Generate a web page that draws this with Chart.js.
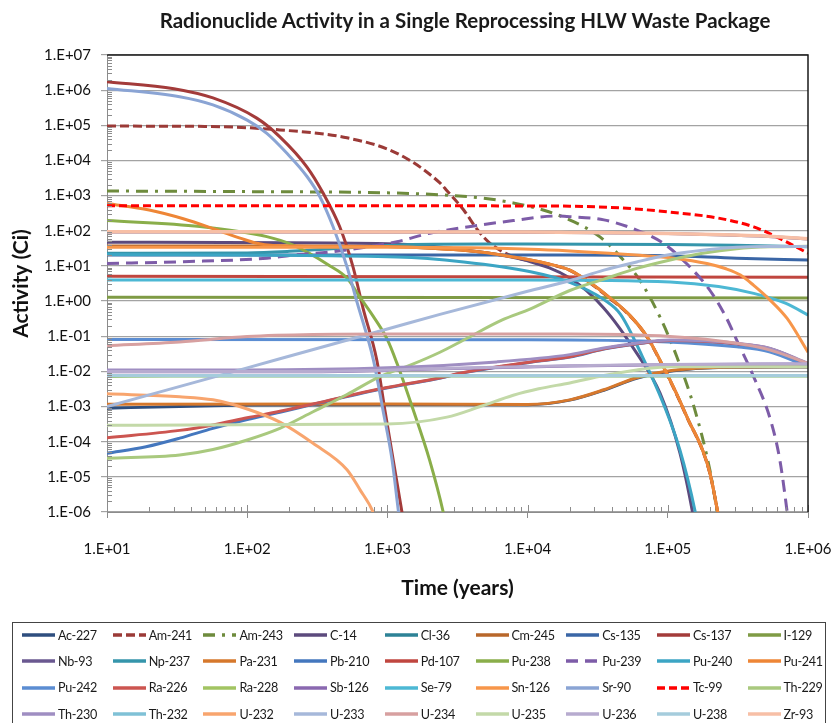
<!DOCTYPE html>
<html>
<head>
<meta charset="utf-8">
<script src="https://cdn.jsdelivr.net/npm/chart.js@4.4.1/dist/chart.umd.min.js"></script>
<style>
  body { margin: 0; background: #fff; font-family: Lato, 'Liberation Sans', sans-serif; }
  #wrap { position: relative; width: 838px; height: 723px; overflow: hidden; }
  #title { position: absolute; top: 7px; left: 465px; transform: translateX(-50%); white-space: nowrap;
    font-weight: bold; font-size: 20.5px; line-height: 26px; color: #1a1a1a; }
  #legend { position: absolute; left: 12px; top: 622px; width: 814px; height: 120px; border: 1px solid #444; box-sizing: border-box; }
  .item { position: absolute; display: flex; align-items: center; height: 20px; font-size: 12.6px; letter-spacing: -0.35px; color: #1a1a1a; white-space: nowrap; }
  .item svg { margin-right: 3px; }
</style>
</head>
<body>
<div id="wrap">
  <canvas id="chart" width="838" height="723"></canvas>
  <div id="title">Radionuclide Activity in a Single Reprocessing HLW Waste Package</div>
  <div id="legend"></div>
</div>
<script>
'use strict';

const timeTicks = [1e1, 1e2, 1e3, 1e4, 1e5, 1e6];
const activityTicks = [1e-6, 1e-5, 1e-4, 1e-3, 1e-2, 1e-1, 1e0, 1e1, 1e2, 1e3, 1e4, 1e5, 1e6, 1e7];

const nuclides = [
  'Ac-227', 'Am-241', 'Am-243', 'C-14', 'Cl-36', 'Cm-245', 'Cs-135', 'Cs-137', 'I-129',
  'Nb-93', 'Np-237', 'Pa-231', 'Pb-210', 'Pd-107', 'Pu-238', 'Pu-239', 'Pu-240', 'Pu-241',
  'Pu-242', 'Ra-226', 'Ra-228', 'Sb-126', 'Se-79', 'Sn-126', 'Sr-90', 'Tc-99', 'Th-229',
  'Th-230', 'Th-232', 'U-232', 'U-233', 'U-234', 'U-235', 'U-236', 'U-238', 'Zr-93',
];

const lineColors = [
  '#2E4E7E', '#9B3A37', '#6E8B3D', '#5C4A7D', '#2D8296', '#B8672A', '#3A66A6', '#A33B3A', '#7F9B45',
  '#6A5890', '#3595AB', '#D6782C', '#4477BE', '#C0463F', '#8AAE4A', '#7D5CA8', '#3CA5C4', '#EE8636',
  '#5B8DD2', '#CC5550', '#A2C462', '#8A68B0', '#4DB8D4', '#F7964A', '#8AA4D4', '#FF0000', '#A9C97E',
  '#9F8EC2', '#7FC1D6', '#F8A56E', '#A6B8DA', '#D7A0A0', '#C3D9A8', '#B7ABCF', '#A5CCDC', '#F7BFA6',
];

const dashPatterns = { 'Am-241': [9, 4], 'Am-243': [12, 7, 3, 7], 'Pu-239': [12, 7], 'Tc-99': [8, 4] };

// [years, Ci]
const ac227 = [[10, 9.0e-4], [33, 1.0e-3], [100, 1.1e-3], [1000, 1.15e-3], [1e4, 1.13e-3], [2e4, 1.52e-3], [3.5e4, 2.9e-3], [6e4, 6.4e-3], [1.1e5, 0.0105], [2.3e5, 0.013], [1e6, 0.0133]];
const am241 = [[10, 9.5e4], [50, 9.3e4], [171, 7.4e4], [515, 4.4e4], [1170, 1.6e4], [2370, 2.3e3], [2650, 1.4e3], [3500, 390], [4400, 105], [5400, 44], [7900, 18.5], [1.37e4, 11.5], [2e4, 7.5], [2.8e4, 3.2], [3.9e4, 1.15], [5.4e4, 0.37], [7.1e4, 0.095], [9.3e4, 0.013], [1.15e5, 2.3e-3], [1.4e5, 4.1e-4], [1.77e5, 5.6e-5], [2e5, 1.2e-5], [2.27e5, 9.8e-7], [2.5e5, 1e-7]];
const am243 = [[10, 1350], [100, 1300], [1000, 1200], [2400, 1050], [4800, 850], [7900, 620], [1.29e4, 390], [1.79e4, 245], [3.3e4, 66], [4.8e4, 15], [6.3e4, 4.0], [8.8e4, 0.35], [1.16e5, 0.026], [1.56e5, 8.0e-4], [2e5, 1.5e-5], [2.24e5, 1.1e-6], [2.5e5, 5e-8]];
const c14 = [[10, 47], [1000, 43], [4600, 25], [1e4, 14], [2e4, 4.5], [3.5e4, 0.63], [6e4, 0.033], [8.8e4, 2.4e-3], [1.22e5, 4.8e-5], [1.5e5, 1.0e-6], [1.7e5, 5e-8]];
const cl36 = [];
const cm245 = [[10, 37], [100, 37], [300, 36.5], [1000, 35.5], [2000, 32], [4600, 25], [7900, 18], [1.37e4, 11.7], [2e4, 7.6], [2.8e4, 3.3], [3.9e4, 1.2], [5.4e4, 0.38], [7.1e4, 0.098], [9.3e4, 0.0135], [1.15e5, 2.4e-3], [1.4e5, 4.2e-4], [1.77e5, 5.8e-5], [2e5, 1.26e-5], [2.27e5, 1e-6], [2.5e5, 1e-7]];
const cs135 = [[10, 20.4], [2e4, 20.4], [1e5, 19.5], [3.1e5, 16.6], [1e6, 14.8]];
const cs137 = [[10, 1.74e6], [30, 1.1e6], [57, 6.0e5], [117, 1.6e5], [171, 4.7e4], [267, 6.5e3], [347, 1.2e3], [457, 130], [569, 9.3], [670, 0.63], [840, 0.021], [960, 7.9e-4], [1100, 3.0e-5], [1270, 1.0e-6], [1400, 1e-7]];
const i129 = [[10, 1.28], [1e6, 1.23]];
const nb93 = [[10, 93], [1e4, 91], [2e4, 89], [1e5, 83], [3e5, 75], [6e5, 67], [1e6, 58]];
const np237 = [[10, 23], [100, 23.5], [200, 26], [400, 31], [1000, 38], [1500, 41], [5000, 42], [1e5, 41], [3e5, 39], [1e6, 35]];
const pa231 = [[10, 1.17e-3], [1000, 1.18e-3], [1e4, 1.15e-3], [2e4, 1.55e-3], [3.5e4, 3.0e-3], [6e4, 6.6e-3], [1.1e5, 0.0107], [2.3e5, 0.0132], [1e6, 0.0135]];
const pb210 = [[10, 4.7e-5], [19, 7.2e-5], [33, 1.26e-4], [57, 2.4e-4], [100, 4.3e-4], [171, 6.9e-4], [295, 1.15e-3], [885, 3.1e-3], [1200, 3.9e-3], [2400, 6.5e-3], [3500, 9.1e-3], [1.05e4, 0.0182], [2e4, 0.0255], [3.5e4, 0.043], [6e4, 0.06], [1.04e5, 0.075], [1.8e5, 0.071], [3.1e5, 0.06], [5.3e5, 0.044], [1e6, 0.0163]];
const pd107 = [[10, 5.1], [1e6, 4.8]];
const pu238 = [[10, 195], [46, 132], [138, 68], [213, 39], [390, 10], [515, 4.5], [640, 1.25], [795, 0.36], [1000, 0.08], [1170, 0.017], [1500, 1.0e-3], [2000, 3e-5], [2500, 1e-6], [2800, 1e-7]];
const pu239 = [[10, 11.7], [35, 13.2], [138, 16.6], [213, 20.4], [390, 25], [1170, 49], [2000, 85], [4600, 145], [7900, 195], [1.6e4, 262], [2e4, 252], [3.5e4, 204], [6e4, 105], [9.3e4, 44], [1.36e5, 11.7], [2e5, 2.0], [2.6e5, 0.35], [3.1e5, 0.078], [4.1e5, 7e-3], [5.4e5, 4.2e-4], [6.3e5, 3e-5], [7.1e5, 1e-6], [7.6e5, 1e-7]];
const pu240 = [[10, 21], [1170, 18], [3500, 13], [1.05e4, 6.8], [2e4, 3.4], [3.5e4, 1.1], [4.6e4, 0.42], [6.6e4, 0.026], [9.3e4, 1.2e-3], [1.22e5, 5.8e-5], [1.57e5, 1.0e-6], [1.8e5, 5e-8]];
const pu241 = [[10, 600], [20, 390], [35, 220], [61, 105], [89, 62], [117, 44], [153, 38], [300, 36.3], [1000, 35.5], [2000, 32], [4600, 25], [7900, 18], [1.37e4, 11.7], [2e4, 7.6], [2.8e4, 3.3], [3.9e4, 1.2], [5.4e4, 0.38], [7.1e4, 0.098], [9.3e4, 0.0135], [1.15e5, 2.4e-3], [1.4e5, 4.2e-4], [1.77e5, 5.8e-5], [2e5, 1.26e-5], [2.27e5, 1e-6], [2.5e5, 1e-7]];
const pu242 = [[10, 0.081], [1e4, 0.080], [1e5, 0.069], [3.1e5, 0.050], [5.3e5, 0.036], [1e6, 0.0135]];
const ra226 = [[10, 1.3e-4], [33, 2.1e-4], [57, 3.0e-4], [100, 4.8e-4], [171, 7.3e-4], [295, 1.18e-3], [885, 3.2e-3], [1200, 4.0e-3], [2400, 6.6e-3], [3500, 9.3e-3], [1.05e4, 0.0186], [2e4, 0.026], [3.5e4, 0.044], [6e4, 0.061], [1.04e5, 0.076], [1.8e5, 0.072], [3.1e5, 0.061], [5.3e5, 0.045], [1e6, 0.0165]];
const ra228 = [[10, 0.0072], [30, 0.0074], [1e6, 0.0074]];
const sb126 = [[10, 0.0098], [300, 0.0098], [2400, 0.0118], [2e4, 0.0142], [1e5, 0.0155], [1e6, 0.0163]];
const se79 = [[10, 4.0], [1e4, 4.0], [1.04e5, 3.5], [2.3e5, 2.6], [4.1e5, 1.66], [6.9e5, 0.87], [1e6, 0.4]];
const sn126 = [[10, 34], [1000, 34], [1.2e4, 29.5], [6.3e4, 20], [1.1e5, 16.6], [1.9e5, 11.7], [2.6e5, 8.3], [3.3e5, 5.5], [4.1e5, 2.8], [5.3e5, 1.12], [7.1e5, 0.32], [1e6, 0.035]];
const sr90 = [[10, 1.12e6], [33, 6.5e5], [57, 3.8e5], [100, 1.4e5], [138, 5.9e4], [192, 1.6e4], [267, 3.5e3], [330, 930], [410, 130], [515, 9.5], [610, 0.87], [795, 0.021], [930, 7.9e-4], [1080, 3.0e-5], [1200, 1e-6], [1350, 3e-8]];
const tc99 = [[10, 513], [1e4, 510], [2e4, 500], [4.6e4, 447], [1.04e5, 339], [2.3e5, 229], [4.1e5, 129], [6e5, 66], [1e6, 23]];
const th229 = [[10, 3.4e-5], [33, 4.2e-5], [57, 6e-5], [100, 1.12e-4], [171, 2.4e-4], [295, 7.1e-4], [515, 2.2e-3], [885, 7.1e-3], [1500, 0.0158], [2370, 0.035], [3500, 0.078], [6600, 0.29], [1.05e4, 0.6], [2e4, 2.0], [3.5e4, 4.2], [6e4, 8.5], [1.04e5, 14.8], [1.77e5, 23], [3.1e5, 31], [5.3e5, 35], [1e6, 36]];
const th230 = [[10, 0.011], [100, 0.011], [1000, 0.0126], [6000, 0.0186], [2e4, 0.030], [3.5e4, 0.046], [6e4, 0.063], [1.04e5, 0.078], [1.8e5, 0.074], [3.1e5, 0.063], [5.3e5, 0.046], [1e6, 0.017]];
const th232 = [[10, 0.0075], [1e6, 0.0075]];
const u232 = [[10, 2.3e-3], [33, 1.9e-3], [57, 1.55e-3], [100, 8.5e-4], [171, 3.6e-4], [295, 9e-5], [515, 1.6e-5], [640, 4.2e-6], [790, 1e-6], [900, 2e-7]];
const u233 = [[10, 1e-3], [100, 0.0126], [1000, 0.16], [2370, 0.42], [1e4, 1.9], [2e4, 3.8], [3.5e4, 7.6], [6e4, 13], [1.04e5, 21], [1.77e5, 28], [3.1e5, 34], [5.3e5, 35.5], [1e6, 35.5]];
const u234 = [[10, 0.054], [33, 0.069], [100, 0.098], [295, 0.112], [1000, 0.115], [2e4, 0.115], [1.04e5, 0.098], [3.1e5, 0.063], [5.3e5, 0.041], [1e6, 0.017]];
const u235 = [[10, 2.95e-4], [1000, 3.2e-4], [2660, 5e-4], [4600, 1e-3], [7900, 2.1e-3], [1.2e4, 3.2e-3], [2e4, 4.7e-3], [3.5e4, 7.6e-3], [6e4, 0.011], [1.04e5, 0.0135], [1e6, 0.0135]];
const u236 = [[10, 0.0100], [300, 0.0100], [2400, 0.0120], [2e4, 0.0145], [1e5, 0.0158], [1e6, 0.0166]];
const u238 = [[10, 0.0076], [1e6, 0.0076]];
const zr93 = [[10, 94], [1e4, 92], [2e4, 90], [1e5, 84], [3e5, 76], [6e5, 68], [1e6, 59]];

const series = [
  ac227, am241, am243, c14, cl36, cm245, cs135, cs137, i129,
  nb93, np237, pa231, pb210, pd107, pu238, pu239, pu240, pu241,
  pu242, ra226, ra228, sb126, se79, sn126, sr90, tc99, th229,
  th230, th232, u232, u233, u234, u235, u236, u238, zr93,
];

const FONT = 'Lato, "Liberation Sans", sans-serif';

function sciLabel(value) {
  const e = Math.round(Math.log10(value));
  return '1.E' + (e < 0 ? '-' : '+') + String(Math.abs(e)).padStart(2, '0');
}

// minor log ticks on the inside of the axes, and the dark frame on top/right
const axisFrame = {
  id: 'axisFrame',
  afterDraw(chart) {
    const { ctx, chartArea: a, scales: { x, y } } = chart;
    ctx.save();
    ctx.strokeStyle = '#8c8c8c';
    ctx.lineWidth = 1;
    ctx.beginPath();
    for (let e = -6; e < 7; e++) {
      for (let k = 2; k < 10; k++) {
        const py = Math.round(y.getPixelForValue(k * 10 ** e)) + 0.5;
        ctx.moveTo(a.left, py);
        ctx.lineTo(a.left + 5, py);
      }
    }
    for (let e = 1; e < 7; e++) {
      for (let k = 1; k < 10; k++) {
        if (e === 6 && k > 1) break;
        const px = Math.round(x.getPixelForValue(k * 10 ** e)) + 0.5;
        ctx.moveTo(px, a.bottom);
        ctx.lineTo(px, a.bottom - (k === 1 ? 7 : 5));
      }
    }
    ctx.stroke();
    ctx.strokeStyle = '#1a1a1a';
    ctx.lineWidth = 1.5;
    ctx.beginPath();
    ctx.moveTo(a.left, a.top);
    ctx.lineTo(a.right, a.top);
    ctx.lineTo(a.right, a.bottom);
    ctx.stroke();
    ctx.restore();
  },
};

new Chart(document.getElementById('chart'), {
  type: 'line',
  data: {
    datasets: nuclides.map((name, i) => ({
      label: name,
      data: series[i].map(([x, y]) => ({ x, y })),
      borderColor: lineColors[i],
      backgroundColor: lineColors[i],
      borderWidth: name === 'Zr-93' ? 3.5 : 3,
      borderDash: dashPatterns[name] || [],
      pointRadius: 0,
      cubicInterpolationMode: 'monotone',
      fill: false,
      order: -i,
    })),
  },
  options: {
    responsive: false,
    animation: false,
    layout: { padding: { top: 55, right: 30, left: 0, bottom: 0 } },
    plugins: { legend: { display: false }, tooltip: { enabled: false } },
    scales: {
      x: {
        type: 'logarithmic',
        min: 10,
        max: 1e6,
        afterBuildTicks: scale => { scale.ticks = timeTicks.map(value => ({ value })); },
        afterFit: scale => { scale.height = 211; scale.paddingLeft = 0; scale.paddingRight = 0; },
        grid: { drawOnChartArea: false, drawTicks: true, tickLength: 6, color: '#8c8c8c' },
        border: { color: '#8c8c8c' },
        ticks: { callback: sciLabel, padding: 22, maxRotation: 0, color: '#111', font: { family: FONT, size: 15 } },
        title: { display: true, text: 'Time (years)', color: '#111', font: { family: FONT, size: 21, weight: 'bold' }, padding: { bottom: 122 } },
      },
      y: {
        type: 'logarithmic',
        min: 1e-6,
        max: 1e7,
        afterBuildTicks: scale => { scale.ticks = activityTicks.map(value => ({ value })); },
        afterFit: scale => { scale.width = 107; scale.paddingTop = 0; scale.paddingBottom = 0; },
        grid: { color: '#a3a3a3', lineWidth: 1.2, tickLength: 6 },
        border: { color: '#8c8c8c' },
        ticks: { callback: sciLabel, padding: 10, color: '#111', font: { family: FONT, size: 15 } },
        title: { display: true, text: 'Activity (Ci)', color: '#111', font: { family: FONT, size: 21, weight: 'bold' }, padding: { top: 9 } },
      },
    },
  },
  plugins: [axisFrame],
});

const legendBox = document.getElementById('legend');
nuclides.forEach((name, i) => {
  const col = i % 9;
  const row = Math.floor(i / 9);
  const item = document.createElement('div');
  item.className = 'item';
  item.style.left = (9 + col * 90.7) + 'px';
  item.style.top = (2 + row * 26.4) + 'px';
  const dash = (dashPatterns[name] || []).join(' ');
  item.innerHTML = `<svg width="33" height="6"><line x1="0" y1="3" x2="33" y2="3" stroke="${lineColors[i]}" stroke-width="3.5" stroke-dasharray="${dash}"/></svg><span>${name}</span>`;
  legendBox.appendChild(item);
});
</script>
</body>
</html>
